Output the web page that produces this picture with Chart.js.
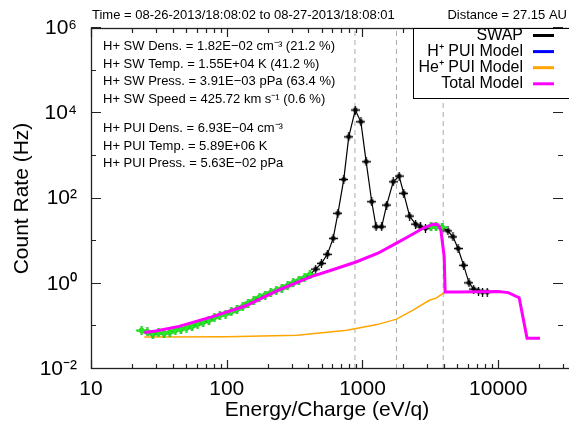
<!DOCTYPE html>
<html lang="en">
<head>
  <meta charset="UTF-8" />
  <title>SWAP Count Rate Spectrum</title>
  <style>
    html, body { margin: 0; padding: 0; background: #fff; overflow: hidden; }
    #wrap { width: 569px; height: 425px; position: relative; }
    #swapChart { display: block; }
  </style>
</head>
<body>
  <div id="wrap"><canvas id="swapChart"></canvas></div>

  <script src="https://cdn.jsdelivr.net/npm/chart.js@4"></script>
  <script>
    // SWAP measured count rates (black, not used in fit)
    const swapEnergy = [452, 498, 551, 608, 659, 728, 792, 885, 973, 1064, 1170, 1259, 1384, 1506, 1684, 1862, 2013, 2225, 2460, 2680, 2910, 4260, 4640, 5060, 5560, 6090, 6590, 7160, 7660, 8300];
    const swapRate   = [2.2, 3.0, 4.9, 11.6, 45, 280, 2800, 11900, 6300, 730, 84, 21.7, 21.7, 70, 247, 336, 132, 38.6, 25, 21.5, 19.9, 17.4, 12.6, 6.7, 2.7, 1.05, 0.75, 0.67, 0.64, 0.64];

    // SWAP points used in the fit (green)
    const fitEnergy = [23.6, 26, 28.5, 31.4, 34.5, 38, 41.8, 46, 50.5, 55.5, 61, 67, 74, 81, 89, 98, 108, 119, 131, 144, 158, 174, 192, 211, 232, 255, 281, 309, 340, 374, 411, 3190, 3486, 3855];
    const fitRate   = [0.080, 0.074, 0.066, 0.070, 0.068, 0.072, 0.080, 0.085, 0.091, 0.100, 0.112, 0.125, 0.140, 0.160, 0.180, 0.195, 0.22, 0.25, 0.29, 0.35, 0.40, 0.48, 0.54, 0.62, 0.70, 0.78, 0.90, 1.05, 1.20, 1.40, 1.65, 21.5, 21.7, 21];

    // model curves
    const hPuiEnergy = [24.7, 30, 44.5, 77.5, 137, 238, 414, 580, 885, 1300, 1780, 2200, 2790, 3330, 3610, 3780, 4000, 4060];
    const hPuiRate   = [0.072, 0.078, 0.10, 0.167, 0.30, 0.70, 1.45, 2.05, 3.2, 5.2, 9.0, 13, 20, 25, 24, 18, 4.3, 0.64];

    const hePuiEnergy = [24.7, 100, 330, 770, 1280, 1781, 2355, 3110, 3480, 4060, 5000, 10000, 11860, 14260, 16300, 20300];
    const hePuiRate   = [0.056, 0.057, 0.062, 0.081, 0.11, 0.148, 0.24, 0.41, 0.46, 0.64, 0.64, 0.66, 0.62, 0.47, 0.053, 0.053];

    const totalEnergy = [24.7, 30, 44.5, 77.5, 137, 238, 414, 580, 885, 1300, 1780, 2200, 2790, 3330, 3610, 3780, 4000, 4060, 5000, 10000, 11860, 14260, 16300, 20300];
    const totalRate   = [0.072, 0.078, 0.10, 0.167, 0.30, 0.70, 1.45, 2.05, 3.2, 5.2, 9.0, 13, 20, 25, 24, 18, 4.3, 0.64, 0.64, 0.66, 0.62, 0.47, 0.053, 0.053];

    // dashed reference energies
    const markEnergy = [880, 1780, 3930];

    // axes
    const xTickValues = [10, 100, 1000, 10000];
    const yTickValues = [1e-2, 1e0, 1e2, 1e4, 1e6];
    const yTickLabels = ['10\u207B\u00B2', '10\u2070', '10\u00B2', '10\u2074', '10\u2076'];

    const headerLeft = 'Time = 08-26-2013/18:08:02 to 08-27-2013/18:08:01';
    const headerRight = 'Distance = 27.15 AU';
    const fitLinesSw = [
      'H+ SW Dens. = 1.82E\u221202 cm\u207B\u00B3 (21.2 %)',
      'H+ SW Temp. = 1.55E+04 K (41.2 %)',
      'H+ SW Press. = 3.91E\u221203 pPa (63.4 %)',
      'H+ SW Speed = 425.72 km s\u207B\u00B9 (0.6 %)'
    ];
    const fitLinesPui = [
      'H+ PUI Dens. = 6.93E\u221204 cm\u207B\u00B3',
      'H+ PUI Temp. = 5.89E+06 K',
      'H+ PUI Press. = 5.63E\u221202 pPa'
    ];

    const FONT = "'Liberation Sans', Arial, Helvetica, sans-serif";
    const AXIS = '#222222';
    const pts = (xs, ys) => xs.map((x, i) => ({ x: x, y: ys[i] }));

    function makeMarker(color, w, h, r, lw) {
      const c = document.createElement('canvas');
      c.width = w; c.height = h;
      const g = c.getContext('2d');
      g.strokeStyle = color; g.fillStyle = color; g.lineWidth = lw;
      g.beginPath();
      g.moveTo(0, h / 2); g.lineTo(w, h / 2);
      g.moveTo(w / 2, 0); g.lineTo(w / 2, h);
      g.stroke();
      g.beginPath(); g.arc(w / 2, h / 2, r, 0, Math.PI * 2); g.fill();
      return c;
    }
    const blackMark = makeMarker('#000', 9, 9, 2.4, 1.3);
    const greenMark = makeMarker('#22ee22', 11, 9, 2.4, 2);

    // the SWAP line goes through every point, fitted or not
    const allSwap = pts(swapEnergy, swapRate).concat(pts(fitEnergy, fitRate)).sort((a, b) => a.x - b.x);

    const datasets = [
      { label: 'SWAP', inLegend: true, data: allSwap, showLine: true, borderColor: '#000', borderWidth: 1.2,
        pointStyle: blackMark, pointRadius: 4, order: 2 },
      { label: 'H\u207A PUI Model', inLegend: true, data: pts(hPuiEnergy, hPuiRate), showLine: true,
        borderColor: '#0000ff', borderWidth: 1.5, pointRadius: 0, order: 4 },
      { label: 'He\u207A PUI Model', inLegend: true, data: pts(hePuiEnergy, hePuiRate), showLine: true,
        borderColor: '#ffa500', borderWidth: 1.5, pointRadius: 0, order: 3 },
      { label: 'Total Model', inLegend: true, data: pts(totalEnergy, totalRate), showLine: true,
        borderColor: '#ff00ff', borderWidth: 3, pointRadius: 0, order: 0 },
      { label: 'fit', data: pts(fitEnergy, fitRate), showLine: false,
        pointStyle: greenMark, pointRadius: 5, order: 1 }
    ];
    markEnergy.forEach(e => datasets.push({
      label: 'mark', data: [{ x: e, y: 1e-2 }, { x: e, y: 1e6 }], showLine: true,
      borderColor: '#aaaaaa', borderWidth: 1, borderDash: [5, 4], pointRadius: 0, order: 5
    }));

    const decorPlugin = {
      id: 'decor',
      afterDraw(chart) {
        const ctx = chart.ctx;
        const area = chart.chartArea;
        const x = chart.scales.x, y = chart.scales.y;
        const L = area.left, R = area.right, T = area.top, B = area.bottom;
        ctx.save();
        ctx.setLineDash([]);

        // fit results and header
        ctx.fillStyle = '#000';
        ctx.font = '13px ' + FONT;
        ctx.textAlign = 'left';
        ctx.textBaseline = 'alphabetic';
        fitLinesSw.forEach((t, i) => ctx.fillText(t, 103, 50 + i * 17.5));
        fitLinesPui.forEach((t, i) => ctx.fillText(t, 103, 132 + i * 17.5));
        ctx.fillText(headerLeft, 92, 19);
        ctx.textAlign = 'right';
        ctx.fillText(headerRight, 567, 19);

        // frame (right edge falls outside the picture) and inward tick marks
        ctx.strokeStyle = AXIS;
        ctx.lineWidth = 1.3;
        ctx.strokeRect(L + 0.5, T + 0.5, R - L + 10, B - T - 1);
        ctx.lineWidth = 1.2;
        ctx.beginPath();
        for (let d = 1; d <= 4; d++) {
          for (let m = 1; m <= 9; m++) {
            const v = m * Math.pow(10, d);
            if (v > x.max) break;
            const px = Math.round(x.getPixelForValue(v)) + 0.5;
            const len = m === 1 ? 9 : 5;
            ctx.moveTo(px, B); ctx.lineTo(px, B - len);
            ctx.moveTo(px, T); ctx.lineTo(px, T + len);
          }
        }
        for (let e = -2; e <= 6; e++) {
          const py = Math.round(y.getPixelForValue(Math.pow(10, e))) - 0.5;
          const len = e % 2 === 0 ? 10 : 5;
          ctx.moveTo(L, py); ctx.lineTo(L + len, py);
          ctx.moveTo(R, py); ctx.lineTo(R - len, py);
        }
        ctx.stroke();

        // legend box
        ctx.fillStyle = '#fff';
        ctx.fillRect(413.5, T + 0.5, 200, 70);
        ctx.strokeStyle = '#000';
        ctx.lineWidth = 1;
        ctx.strokeRect(413.5, T + 0.5, 200, 70);
        ctx.font = '16px ' + FONT;
        ctx.textAlign = 'right';
        ctx.textBaseline = 'middle';
        chart.data.datasets.filter(d => d.inLegend).forEach((d, i) => {
          const ly = 35.5 + i * 16.1;
          ctx.fillStyle = '#000';
          ctx.fillText(d.label, 523, ly);
          ctx.strokeStyle = d.borderColor;
          ctx.lineWidth = 3;
          ctx.beginPath(); ctx.moveTo(533, ly); ctx.lineTo(554, ly); ctx.stroke();
        });
        ctx.restore();
      }
    };

    new Chart(document.getElementById('swapChart'), {
      type: 'scatter',
      data: { datasets: datasets },
      plugins: [decorPlugin],
      options: {
        responsive: true,
        maintainAspectRatio: false,
        devicePixelRatio: 1,
        animation: false,
        layout: { padding: { top: 28, left: 0, right: 0, bottom: 0 } },
        plugins: { legend: { display: false }, tooltip: { enabled: false } },
        scales: {
          x: {
            type: 'logarithmic',
            min: 10,
            max: 30000,
            afterBuildTicks: s => { s.ticks = xTickValues.map(v => ({ value: v })); },
            afterFit: s => { s.height = 56; s.paddingRight = 0; s.paddingLeft = 0; },
            grid: { display: false },
            border: { display: false },
            ticks: {
              autoSkip: false, maxRotation: 0, padding: 0, color: '#000',
              font: { family: FONT, size: 21 },
              callback: v => String(v)
            },
            title: {
              display: true, text: 'Energy/Charge (eV/q)', color: '#000',
              font: { family: FONT, size: 21 }, padding: { top: 0, bottom: 2.4 }
            }
          },
          y: {
            type: 'logarithmic',
            min: 1e-2,
            max: 1e6,
            afterBuildTicks: s => { s.ticks = yTickValues.map(v => ({ value: v })); },
            afterFit: s => { s.width = 91; s.paddingTop = 0; s.paddingBottom = 0; },
            grid: { display: false },
            border: { display: false },
            ticks: {
              autoSkip: false, padding: 6, color: '#000',
              font: { family: FONT, size: 21 },
              callback: (v, i) => yTickLabels[i]
            },
            title: {
              display: true, text: 'Count Rate (Hz)', color: '#000',
              font: { family: FONT, size: 21 }, padding: { top: 9.4, bottom: 0 }
            }
          }
        }
      }
    });
  </script>
</body>
</html>
